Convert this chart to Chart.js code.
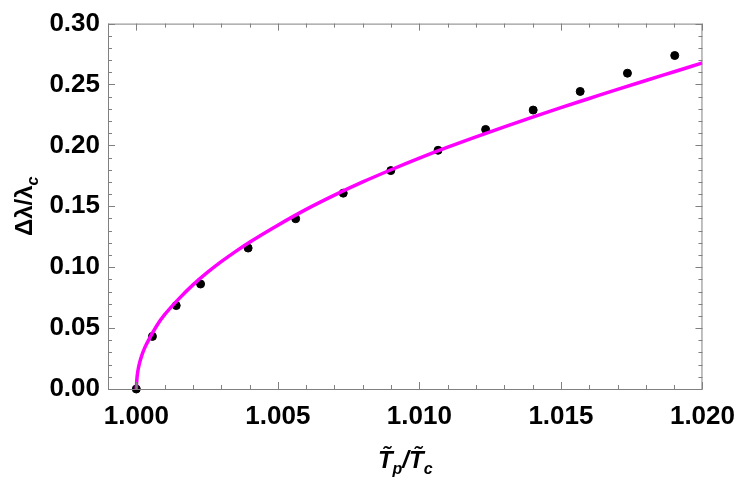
<!DOCTYPE html>
<html>
<head>
<meta charset="utf-8">
<script src="https://cdn.jsdelivr.net/npm/chart.js@4/dist/chart.umd.min.js"></script>
<style>
  html, body { margin:0; padding:0; background:#fff; }
  #wrap { width:747px; height:486px; }
</style>
</head>
<body>
<div id="wrap"><canvas id="c" width="747" height="486"></canvas></div>
<script>
// measured points (black dots)
var pointX = [1.0000, 1.00057, 1.00141, 1.00227, 1.00395, 1.00563, 1.00731, 1.00899, 1.01066, 1.01234, 1.01402, 1.01568, 1.01735, 1.01902];
var pointY = [0.000, 0.0432, 0.0685, 0.0862, 0.1157, 0.1398, 0.1608, 0.1793, 0.1960, 0.2131, 0.2290, 0.2443, 0.2593, 0.2738];

// fitted curve (magenta)
var curveX = [1.0000, 1.00002, 1.00005, 1.0001, 1.0002, 1.0003, 1.0005, 1.00075, 1.001, 1.0015, 1.002, 1.0025, 1.003, 1.0035, 1.004,
              1.005, 1.006, 1.007, 1.008, 1.009, 1.010, 1.011, 1.012, 1.013, 1.014, 1.015, 1.016, 1.017, 1.018, 1.019, 1.020];
var curveY = [0.000, 0.008, 0.014, 0.020, 0.028, 0.034, 0.043, 0.053, 0.061, 0.074, 0.0855, 0.0955, 0.1045, 0.1128, 0.1205,
              0.1345, 0.1475, 0.1592, 0.1700, 0.1800, 0.1895, 0.1985, 0.2070, 0.2152, 0.2232, 0.2310, 0.2385, 0.2460, 0.2533, 0.2605, 0.2677];

var xTicks = [1.000, 1.005, 1.010, 1.015, 1.020];
var yTicks = [0.00, 0.05, 0.10, 0.15, 0.20, 0.25, 0.30];

var axisGray = '#808080';
var tickFont = {family:'"Liberation Sans", Arial, sans-serif', size:26, weight:'bold'};

function pairs(xs, ys){
  var out = [];
  for(var i=0;i<xs.length;i++) out.push({x:xs[i], y:ys[i]});
  return out;
}

// frame + inward ticks on all four sides
var frameTicks = {
  id:'frameTicks',
  afterDraw: function(chart){
    var ctx = chart.ctx, a = chart.chartArea;
    var xs = chart.scales.x, ys = chart.scales.y;
    ctx.save();
    ctx.strokeStyle = axisGray;
    ctx.lineWidth = 1;
    ctx.strokeRect(a.left+0.5, a.top+0.5, a.right-a.left-1, a.bottom-a.top);
    ctx.beginPath();
    var i, v, p, len;
    for(i=0;i<=21;i++){
      v = 0.999 + i*0.001;
      p = Math.round(xs.getPixelForValue(v))+0.5;
      len = (Math.round(v*1000) % 5 === 0) ? 7 : 4;
      ctx.moveTo(p, a.bottom); ctx.lineTo(p, a.bottom-len);
      ctx.moveTo(p, a.top); ctx.lineTo(p, a.top+len);
    }
    for(i=0;i<=30;i++){
      v = i*0.01;
      p = Math.round(ys.getPixelForValue(v))+0.5;
      len = (i % 5 === 0) ? 7 : 4;
      ctx.moveTo(a.left, p); ctx.lineTo(a.left+len, p);
      ctx.moveTo(a.right, p); ctx.lineTo(a.right-len, p);
    }
    ctx.stroke();
    ctx.restore();
  }
};

// axis titles with subscripts
function drawParts(ctx, parts, x, y){
  var total = 0, i;
  for(i=0;i<parts.length;i++){
    ctx.font = parts[i].font;
    parts[i].w = ctx.measureText(parts[i].t).width;
    total += parts[i].w;
  }
  var cx = x - total/2;
  for(i=0;i<parts.length;i++){
    ctx.font = parts[i].font;
    ctx.fillText(parts[i].t, cx, y + (parts[i].dy||0));
    cx += parts[i].w;
  }
}

var axisTitles = {
  id:'axisTitles',
  afterDraw: function(chart){
    var ctx = chart.ctx, a = chart.chartArea;
    var fam = '"Liberation Sans", Arial, sans-serif';
    var big = 'bold 24px ' + fam, bigI = 'italic bold 24px ' + fam, sub = 'italic bold 16px ' + fam;
    ctx.save();
    ctx.fillStyle = '#000';
    ctx.textBaseline = 'alphabetic';
    ctx.textAlign = 'left';
    drawParts(ctx, [
      {t:'T\u0303', font:bigI}, {t:'p', font:sub, dy:6}, {t:'/', font:bigI},
      {t:'T\u0303', font:bigI}, {t:'c', font:sub, dy:6}
    ], (a.left+a.right)/2, 468);
    ctx.translate(32, (a.top+a.bottom)/2);
    ctx.rotate(-Math.PI/2);
    drawParts(ctx, [
      {t:'\u0394\u03bb/\u03bb', font:big}, {t:'c', font:sub, dy:6}
    ], 0, 0);
    ctx.restore();
  }
};

new Chart(document.getElementById('c').getContext('2d'), {
  type:'scatter',
  data:{
    datasets:[
      {
        type:'line',
        data:pairs(curveX, curveY),
        borderColor:'#ff00ff',
        borderWidth:3.5,
        pointRadius:0,
        fill:false,
        cubicInterpolationMode:'monotone',
        order:1
      },
      {
        data:pairs(pointX, pointY),
        backgroundColor:'#000',
        borderColor:'#000',
        pointRadius:4,
        clip:false,
        order:2
      }
    ]
  },
  options:{
    responsive:false,
    animation:false,
    layout:{padding:{left:0, top:16, right:38, bottom:0}},
    plugins:{legend:{display:false}, tooltip:{enabled:false}},
    scales:{
      x:{
        type:'linear', min:0.999, max:1.020,
        afterBuildTicks:function(s){ s.ticks = xTicks.map(function(v){ return {value:v}; }); },
        afterFit:function(s){ s.height = 97; },
        grid:{display:false, drawTicks:false},
        border:{display:false},
        ticks:{color:'#000', font:tickFont, padding:12, maxRotation:0,
               callback:function(v){ return Number(v).toFixed(3); }}
      },
      y:{
        type:'linear', min:0, max:0.30,
        afterBuildTicks:function(s){ s.ticks = yTicks.map(function(v){ return {value:v}; }); },
        afterFit:function(s){ s.width = 108; },
        grid:{display:false, drawTicks:false},
        border:{display:false},
        ticks:{color:'#000', font:tickFont, padding:8,
               callback:function(v){ return Number(v).toFixed(2); }}
      }
    }
  },
  plugins:[frameTicks, axisTitles]
});
</script>
</body>
</html>
